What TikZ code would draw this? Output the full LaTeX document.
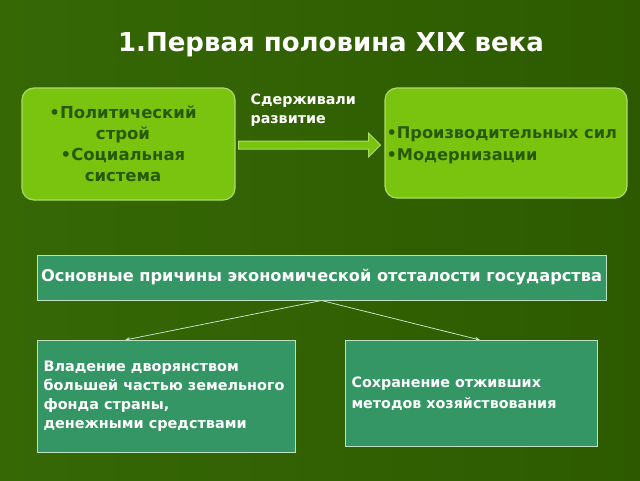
\documentclass[tikz,border=0pt]{standalone}
\usepackage{fontspec}
\setmainfont{DejaVu Sans}
\usetikzlibrary{shapes.arrows,arrows.meta}
\definecolor{bgA}{RGB}{54,104,6}
\definecolor{bgB}{RGB}{45,90,0}
\definecolor{lime}{RGB}{122,195,15}
\definecolor{limeedge}{RGB}{170,220,100}
\definecolor{darktext}{RGB}{40,90,5}
\definecolor{sea}{RGB}{52,150,100}
\definecolor{seaedge}{RGB}{190,225,195}
\tikzset{
  limebox/.style={draw=limeedge, line width=1.2pt, fill=lime, rounded corners=12pt},
  seabox/.style={draw=seaedge, line width=1pt, fill=sea, text=white, font=\bfseries\fontsize{16.2}{20}\selectfont},
  link/.style={draw=seaedge, line width=0.8pt, -{Stealth[length=5pt,width=4pt]}}
}
\begin{document}
\begin{tikzpicture}[x=1pt,y=-1pt]
\shade[left color=bgA, right color=bgB] (0,0) rectangle (640,480);
\useasboundingbox (0,0) rectangle (640,480);
\node[text=white, font=\bfseries\fontsize{26}{30}\selectfont] (title) at (331,45) {1.Первая половина XIX века};
% left rounded box
\draw[limebox] (22,88) rectangle (235,200);
\node[text=darktext, font=\bfseries\fontsize{16.5}{21}\selectfont, align=center] (left) at (123,144) {•Политический\\ строй\\•Социальная\\ система};
% right rounded box
\draw[limebox] (385,88) rectangle (627,198);
\node[text=darktext, font=\bfseries\fontsize{16.2}{22}\selectfont, align=left, anchor=west] (right) at (383,145) {•Производительных сил\\•Модернизации};
% block arrow
\node[single arrow, draw=limeedge, line width=1pt, fill=lime, minimum height=142pt, minimum width=24pt, single arrow head extend=5pt, inner sep=2pt, anchor=west] (arr) at (238,145) {};
\node[text=white, font=\bfseries\fontsize{14.3}{19}\selectfont, align=left, anchor=north west] (lab) at (247,90) {Сдерживали\\развитие};
% main cause box
\node[seabox, minimum width=569pt, minimum height=45pt, inner sep=0pt] (cause) at (321.5,277.5) {Основные причины экономической отсталости государства};
% bottom boxes
\node[seabox, minimum width=258pt, minimum height=112pt, anchor=north west] (b1) at (37,340) {};
\node[white, font=\bfseries\fontsize{14.4}{19}\selectfont, align=left, anchor=north west] (b1t) at (40,357) {Владение дворянством\\большей частью земельного\\фонда страны,\\денежными средствами};
\node[seabox, minimum width=252pt, minimum height=106pt, anchor=north west] (b2) at (345,340) {};
\node[white, font=\bfseries\fontsize{14.3}{21}\selectfont, align=left, anchor=north west] (b2t) at (348,373) {Сохранение отживших\\методов хозяйствования};
% connectors
\coordinate (c1) at (125,340);
\coordinate (c2) at (480,340);
\draw[link] (cause.south) -- (c1);
\draw[link] (cause.south) -- (c2);
\end{tikzpicture}
\end{document}
